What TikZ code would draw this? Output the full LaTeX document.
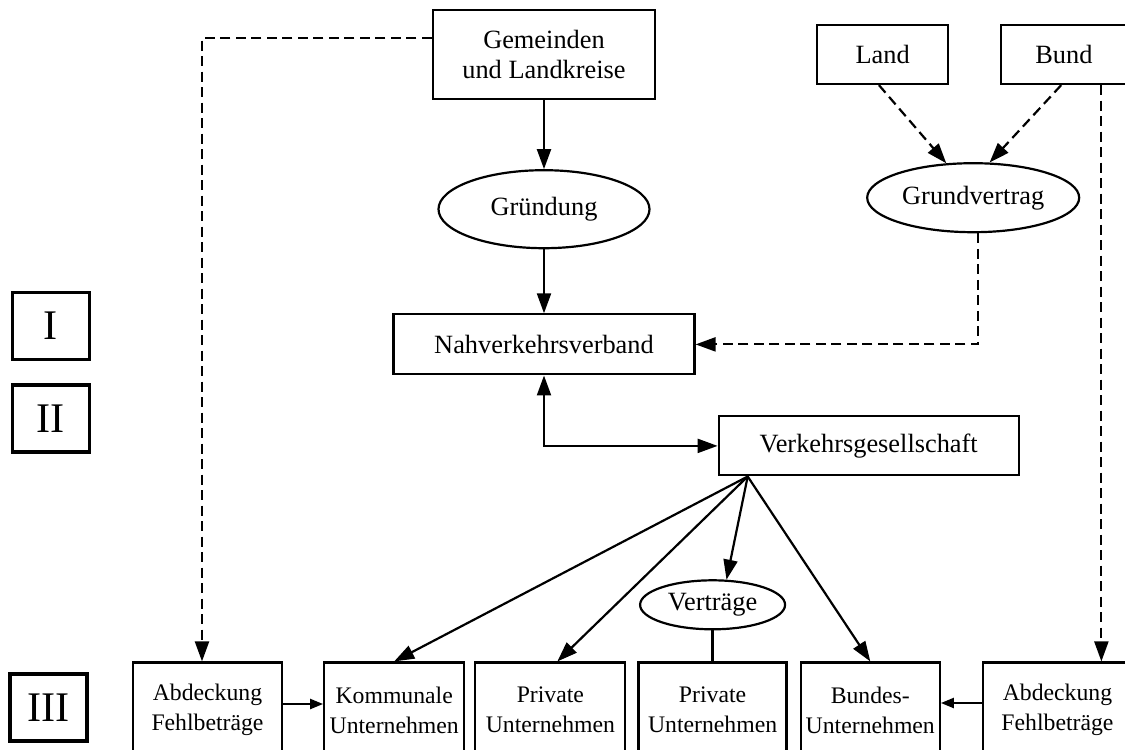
\documentclass[tikz,border=0pt]{standalone}
\usepackage{fontspec}
\setmainfont{Liberation Serif}
\usetikzlibrary{positioning,arrows.meta,shapes.geometric}

\begin{document}
\begin{tikzpicture}[line width=1.25pt,
		every node/.style={font=\fontsize{15}{17.6}\selectfont},
		boxnode/.style={draw,rectangle,inner sep=0pt,align=center},
		ellnode/.style={draw,ellipse,inner sep=0pt},
		unitnode/.style={boxnode,minimum height=19mm,font=\fontsize{13.5}{17}\selectfont},
		romannode/.style={draw,line width=2pt,inner sep=0pt,minimum width=15.4mm,minimum height=13.4mm,font=\fontsize{24}{28}\selectfont},
		arr/.style={-{Triangle[length=4mm,width=2.8mm]}},
		dblarr/.style={{Triangle[length=4mm,width=2.8mm]}-{Triangle[length=4mm,width=2.8mm]}},
		sarr/.style={-{Triangle[length=2.6mm,width=2mm]}},
		dasharr/.style={arr,dash pattern=on 2mm off 1.1mm}]
			\useasboundingbox (0,0) rectangle (225mm,-150mm);
			\clip (0,0) rectangle (225mm,-150mm);

			\node[boxnode,minimum width=44.4mm,minimum height=17.8mm]				(gem)	at (108.8mm,-10.9mm) {Gemeinden\\und Landkreise};
			\node[ellnode,minimum width=42.2mm,minimum height=15.6mm,below=13.8mm of gem]	(grd)	{Gründung};
			\node[boxnode,minimum width=60.2mm,minimum height=12mm,below=12.8mm of grd]	(nvv)	{Nahverkehrsverband};
			\node[boxnode,minimum width=60mm,minimum height=11.8mm,right=4.4mm of nvv,yshift=-20.3mm]	(vg)	{Verkehrsgesellschaft};

			\node[boxnode,minimum width=26.2mm,minimum height=11.8mm,right=32mm of gem]	(land)	{Land};
			\node[boxnode,minimum width=25mm,minimum height=11.8mm,right=10.2mm of land]	(bund)	{Bund};
			\node[ellnode,minimum width=42.4mm,minimum height=13.8mm,below=15.4mm of land,xshift=18.1mm]	(gv)	{Grundvertrag};

			\node[unitnode,minimum width=29.8mm]						(abl)	at (41.5mm,-142mm) {Abdeckung\\Fehlbeträge};
			\node[unitnode,minimum width=28mm,right=8mm of abl]		(kom)	{Kommunale\\Unternehmen};
			\node[unitnode,minimum width=30mm,right=1.8mm of kom]		(pr1)	{Private\\Unternehmen};
			\node[unitnode,minimum width=29.6mm,right=2.2mm of pr1]	(pr2)	{Private\\Unternehmen};
			\node[unitnode,minimum width=27.8mm,right=2.4mm of pr2]	(bun)	{Bundes-\\Unternehmen};
			\node[unitnode,minimum width=29.8mm,right=8.2mm of bun]	(abr)	{Abdeckung\\Fehlbeträge};
			\node[ellnode,minimum width=29mm,minimum height=9.8mm,above=6.2mm of pr2]	(vt)	{Verträge};

			\node[romannode]										(r1)	at (10.2mm,-65.2mm) {I};
			\node[romannode,below=4.4mm of r1]					(r2)	{II};
			\node[romannode,left=8.6mm of abl,yshift=0.5mm]		(r3)	{III};

			\draw[arr] (gem) -- (grd);
			\draw[arr] (grd) -- (nvv);
			\draw[dblarr] (nvv.south) |- (vg.west);
			\draw[dasharr] (land.-97) -- (gv.128);
			\draw[dasharr] (bund.-95) -- (gv.65);
			\draw[dasharr] (gv.-82) |- (nvv.east);
			\draw[dasharr] ([yshift=3.3mm]gem.west) -| ([xshift=-1.1mm]abl.north);
			\coordinate (bd) at ([xshift=7.5mm]bund.south);
			\draw[dasharr] (bd) -- (bd |- abr.north);

			\coordinate (fan) at ([xshift=-24.2mm]vg.south);
			\draw[arr] (fan) -- (kom.north);
			\draw[arr] (fan) -- ([xshift=1.4mm]pr1.north);
			\draw[arr] (fan) -- (vt.61);
			\draw[arr] (fan) -- (bun.north);
			\draw (vt.south) -- (vt.south |- pr2.north);
			\draw[sarr] ([yshift=1.2mm]abl.east) -- ([yshift=1.2mm]kom.west);
			\draw[sarr] ([yshift=1.4mm]abr.west) -- ([yshift=1.4mm]bun.east);
		\end{tikzpicture}
\end{document}
